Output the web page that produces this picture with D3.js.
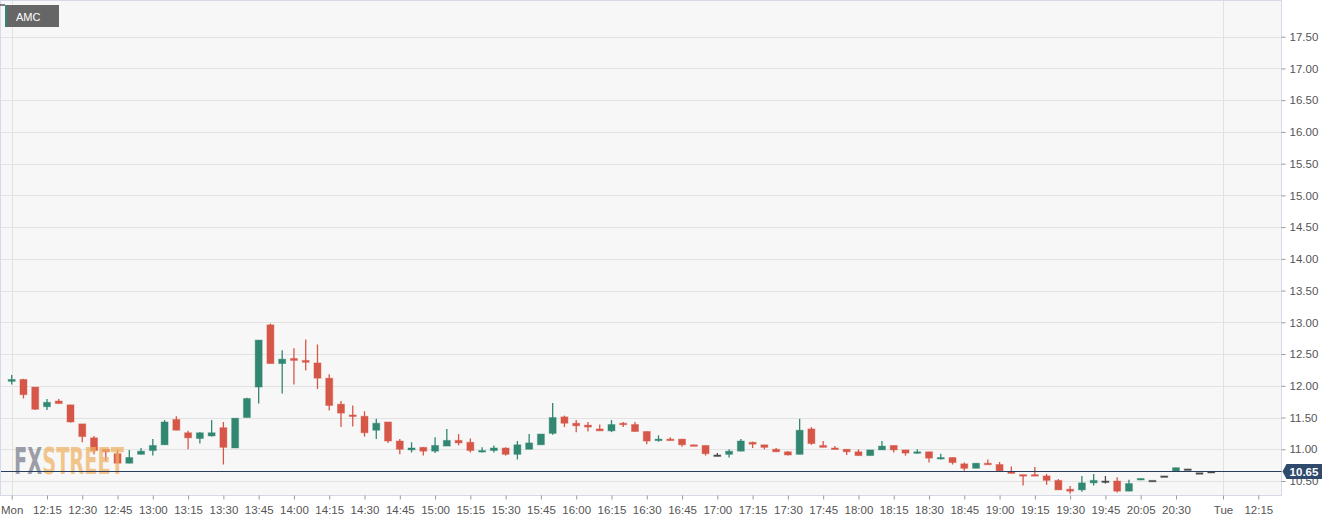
<!DOCTYPE html>
<html>
<head>
<meta charset="utf-8">
<script src="https://cdn.jsdelivr.net/npm/d3@7"></script>
<style>
  body { margin: 0; background: #fff; }
  svg { display: block; font-family: "Liberation Sans", Arial, sans-serif; }
</style>
</head>
<body>
<svg id="chart" width="1340" height="521"></svg>
<script>
// 5 minute bars, AMC, Mon 12:00 -> Mon 21:10
var open  = [12.07,12.10,11.98,11.67,11.76,11.70,11.40,11.18,11.00,10.93,10.78,10.92,10.98,11.07,11.47,11.26,11.17,11.21,11.34,11.02,
             11.50,11.98,12.96,12.35,12.43,12.40,12.36,12.12,11.71,11.54,11.52,11.30,11.43,11.13,10.99,11.03,10.97,11.05,11.14,11.11,
             10.96,10.98,11.02,10.92,11.00,11.07,11.25,11.51,11.41,11.38,11.32,11.29,11.41,11.39,11.28,11.14,11.16,11.16,11.07,11.06,
             10.91,10.92,10.97,11.11,11.07,11.00,10.96,10.92,11.32,11.06,11.02,11.00,10.96,10.90,10.99,11.06,10.99,10.94,10.96,10.85,
             10.87,10.77,10.70,10.78,10.76,10.65,10.60,10.60,10.58,10.51,10.37,10.36,10.47,10.50,10.50,10.34,10.52,10.51,10.58,10.65,
             10.69,10.63,10.65];
var high  = [12.17,12.11,11.98,11.79,11.79,11.70,11.40,11.21,11.00,10.99,10.99,11.02,11.16,11.46,11.52,11.29,11.27,11.46,11.43,11.49,
             11.81,12.72,12.98,12.56,12.59,12.73,12.65,12.18,11.76,11.69,11.60,11.48,11.43,11.16,11.11,11.03,11.19,11.32,11.24,11.17,
             11.03,11.06,11.03,11.13,11.24,11.24,11.73,11.53,11.46,11.43,11.39,11.46,11.43,11.43,11.28,11.22,11.19,11.16,11.07,11.06,
             10.94,11.00,11.16,11.12,11.07,11.02,10.97,11.48,11.35,11.13,11.05,11.00,11.00,10.99,11.13,11.06,10.99,11.00,10.96,10.93,
             10.87,10.79,10.78,10.84,10.80,10.73,10.60,10.72,10.61,10.53,10.42,10.58,10.61,10.58,10.56,10.52,10.54,10.51,10.58,10.71,
             10.69,10.63,10.65];
var low   = [12.02,11.80,11.62,11.62,11.72,11.42,11.11,10.92,10.82,10.78,10.78,10.92,10.90,11.07,11.30,11.00,11.09,11.20,10.76,11.02,
             11.50,11.72,12.35,11.88,12.02,12.24,11.95,11.61,11.35,11.36,11.20,11.16,11.10,10.92,10.95,10.90,10.94,11.05,11.06,10.95,
             10.95,10.95,10.90,10.84,11.00,11.07,11.23,11.35,11.27,11.28,11.29,11.27,11.35,11.28,11.08,11.12,11.14,11.04,11.05,10.90,
             10.89,10.87,10.97,11.02,11.00,10.96,10.90,10.92,11.07,11.03,11.00,10.91,10.90,10.90,10.99,10.95,10.90,10.93,10.79,10.84,
             10.76,10.66,10.70,10.76,10.66,10.62,10.43,10.58,10.44,10.36,10.30,10.33,10.43,10.46,10.32,10.34,10.51,10.51,10.58,10.65,
             10.69,10.63,10.65];
var close = [12.10,11.86,11.63,11.74,11.72,11.43,11.20,10.98,10.96,10.78,10.87,10.97,11.06,11.43,11.30,11.18,11.26,11.26,11.03,11.49,
             11.80,12.72,12.35,12.42,12.40,12.37,12.12,11.69,11.57,11.52,11.26,11.41,11.13,11.00,11.02,10.97,11.06,11.14,11.10,10.98,
             10.98,11.02,10.92,11.07,11.10,11.24,11.50,11.41,11.37,11.35,11.29,11.39,11.39,11.28,11.13,11.16,11.15,11.07,11.05,10.93,
             10.91,10.97,11.13,11.08,11.03,10.96,10.91,11.30,11.09,11.03,11.00,10.96,10.90,10.99,11.05,10.99,10.94,10.96,10.86,10.87,
             10.79,10.70,10.78,10.76,10.66,10.62,10.58,10.58,10.51,10.36,10.34,10.47,10.51,10.50,10.34,10.46,10.54,10.51,10.58,10.71,
             10.69,10.63,10.65];

var tickIndex  = [0,3,6,9,12,15,18,21,24,27,30,33,36,39,42,45,48,51,54,57,60,63,66,69,72,75,78,81,84,87,90,93,96,99,103,106];
var tickLabels = ["Mon","12:15","12:30","12:45","13:00","13:15","13:30","13:45","14:00","14:15","14:30","14:45","15:00",
                  "15:15","15:30","15:45","16:00","16:15","16:30","16:45","17:00","17:15","17:30","17:45","18:00","18:15",
                  "18:30","18:45","19:00","19:15","19:30","19:45","20:05","20:30","Tue","12:15"];
var dayIndex   = [0,103];
var priceTicks = [10.5,11,11.5,12,12.5,13,13.5,14,14.5,15,15.5,16,16.5,17,17.5];
var lastPrice  = 10.65;
var symbol     = "AMC";

var svg = d3.select("#chart");
var plotW = 1281.5, plotH = 495.5;
var green = "#318771", red = "#d65647", flat = "#4a4a4a";

var x = d3.scaleLinear().domain([0, 106]).range([11.7, 1258.3]);
var y = d3.scaleLinear().domain([10.5, 17.5]).range([481, 36.7]);

// plot background
svg.append("rect").attr("x", 0.5).attr("y", 0.5).attr("width", plotW - 0.5).attr("height", plotH - 0.5)
  .attr("fill", "#f7f7f7").attr("stroke", "#d6dae8");

// grid
svg.append("g").selectAll("line").data(priceTicks).enter().append("line")
  .attr("x1", 1).attr("x2", plotW).attr("y1", d => Math.round(y(d)) + 0.5).attr("y2", d => Math.round(y(d)) + 0.5)
  .attr("stroke", "#e2e2e2");
svg.append("g").selectAll("line").data(dayIndex).enter().append("line")
  .attr("x1", d => Math.round(x(d)) + 0.5).attr("x2", d => Math.round(x(d)) + 0.5).attr("y1", 1).attr("y2", plotH)
  .attr("stroke", "#e2e2e2");

// y axis
var yAxis = svg.append("g").attr("transform", "translate(" + plotW + ",0)")
  .call(d3.axisRight(y).tickValues(priceTicks).tickFormat(d3.format(".2f")).tickSize(4).tickPadding(4));
yAxis.select(".domain").remove();
yAxis.selectAll("line").attr("stroke", "#999");
yAxis.selectAll("text").attr("fill", "#555").style("font-size", "11.5px").style("font-family", "Liberation Sans, Arial, sans-serif");

// x axis
var xAxis = svg.append("g").attr("transform", "translate(0," + plotH + ")")
  .call(d3.axisBottom(x).tickValues(tickIndex).tickFormat((d, i) => tickLabels[i]).tickSize(4).tickPadding(6));
xAxis.select(".domain").remove();
xAxis.selectAll("line").attr("stroke", "#999");
xAxis.selectAll("text").attr("fill", "#555").style("font-size", "11.5px").style("font-family", "Liberation Sans, Arial, sans-serif");

// candles
var bars = d3.range(open.length);
function col(i) { return close[i] > open[i] ? green : (close[i] < open[i] ? red : flat); }

var g = svg.append("g");
g.selectAll(".wick").data(bars).enter().append("line")
  .attr("x1", i => x(i)).attr("x2", i => x(i))
  .attr("y1", i => y(high[i])).attr("y2", i => y(low[i]))
  .attr("stroke", col).attr("stroke-width", 1.3);

g.selectAll(".body").data(bars).enter().append("rect")
  .attr("x", i => x(i) - 3.5).attr("width", 7)
  .attr("y", i => y(Math.max(open[i], close[i])))
  .attr("height", i => Math.max(1.5, Math.abs(y(open[i]) - y(close[i]))))
  .attr("fill", col).attr("stroke", col).attr("stroke-opacity", 0.4).attr("stroke-width", 1);

// watermark (one text, two colours)
var wm = svg.append("text").attr("x", 14).attr("y", 474)
  .attr("textLength", 110).attr("lengthAdjust", "spacingAndGlyphs")
  .style("font-family", "DejaVu Sans Condensed, DejaVu Sans, sans-serif").style("font-weight", "bold").style("font-size", "37px");
wm.append("tspan").text("FX").attr("fill", "#8b8e98").attr("fill-opacity", 0.85);
wm.append("tspan").text("STREET").attr("fill", "#f0b163").attr("fill-opacity", 0.72);

// last price line + label
var py = Math.round(y(lastPrice)) + 0.5;
svg.append("line").attr("x1", 1).attr("x2", plotW).attr("y1", py).attr("y2", py)
  .attr("stroke", "#2b3d5c").attr("stroke-width", 1.2);
svg.append("path")
  .attr("d", "M" + (plotW + 1) + "," + py + "L" + (plotW + 5) + "," + (py - 7.5) + "H1322V" + (py + 7.5) + "H" + (plotW + 5) + "Z")
  .attr("fill", "#2f4a6d");
svg.append("text").attr("x", 1304).attr("y", py + 4).attr("text-anchor", "middle").text(lastPrice.toFixed(2))
  .attr("fill", "#fff").style("font-weight", "bold").style("font-size", "11.5px");

// legend
svg.append("rect").attr("x", 5).attr("y", 5).attr("width", 54).attr("height", 22).attr("fill", "#666");
svg.append("rect").attr("x", 5).attr("y", 5).attr("width", 2).attr("height", 22).attr("fill", green);
svg.append("text").attr("x", 16).attr("y", 20.5).text(symbol).attr("fill", "#fff").style("font-size", "11px");

svg.append("line").attr("x1", 0).attr("x2", 5).attr("y1", 5).attr("y2", 5).attr("stroke", "#111");
</script>
</body>
</html>
